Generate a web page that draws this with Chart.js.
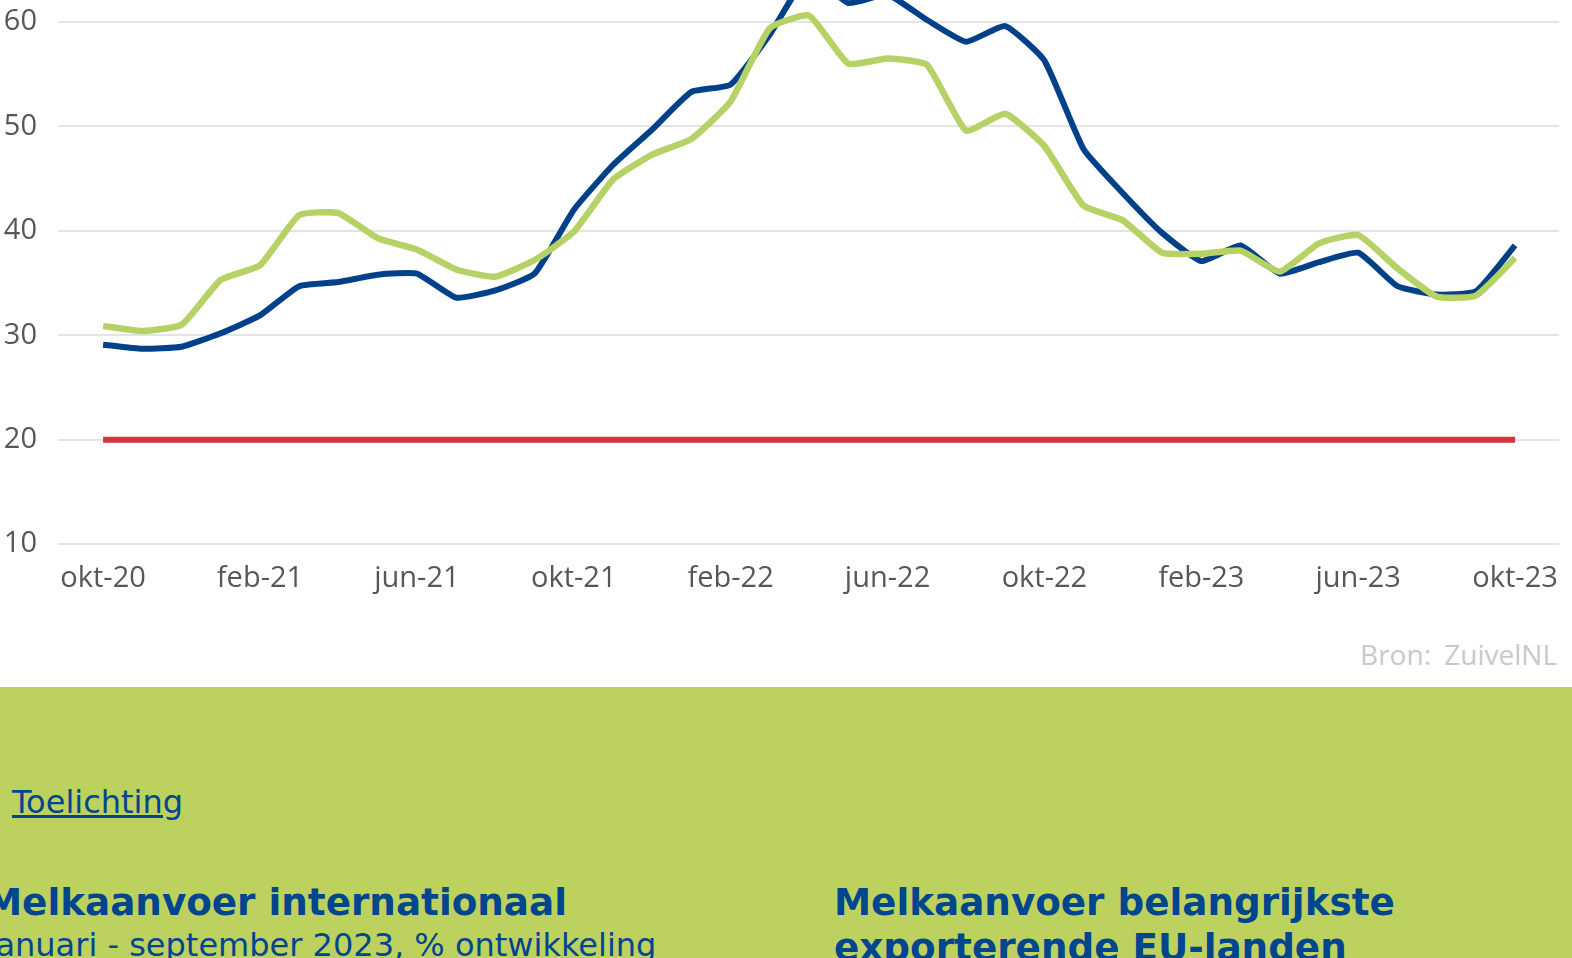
<!DOCTYPE html>
<html>
<head>
<meta charset="utf-8">
<script src="https://cdn.jsdelivr.net/npm/chart.js@4"></script>
<style>
    html, body { margin: 0; padding: 0; width: 1572px; height: 958px; overflow: hidden; background: #fff; }
    #chartBox { position: absolute; left: 0; top: -121px; width: 1572px; height: 734px; }
    .bron { position: absolute; right: 15px; top: 635px; font: 28px/38px "Open Sans", sans-serif; color: #c9c9c9; word-spacing: 6px; }
    .green { position: absolute; left: 0; top: 687px; width: 1572px; height: 271px; background: #bdd15e; }
    .txt { position: absolute; font-family: "DejaVu Sans", sans-serif; color: #00468e; white-space: nowrap; }
    .link { left: 12px; top: 95px; font-size: 32px; line-height: 40px; text-decoration: underline; }
    .h { font-size: 37.3px; line-height: 45px; font-weight: bold; }
    .sub { font-size: 32px; line-height: 40px; }
</style>
</head>
<body>
<div id="chartBox"><canvas id="chart"></canvas></div>
<div class="bron">Bron: ZuivelNL</div>
<div class="green">
    <div class="txt link">Toelichting</div>
    <div class="txt h" style="left:-15px; top:193px;">Melkaanvoer internationaal</div>
    <div class="txt sub" style="left:-14px; top:238px;">Januari - september 2023, % ontwikkeling</div>
    <div class="txt h" style="left:834px; top:193px;">Melkaanvoer belangrijkste<br>exporterende EU-landen</div>
</div>
<script>
// maanden okt-20 t/m okt-23
const months = ['okt-20', 'nov-20', 'dec-20', 'jan-21', 'feb-21', 'mrt-21', 'apr-21', 'mei-21', 'jun-21', 'jul-21', 'aug-21', 'sep-21',
    'okt-21', 'nov-21', 'dec-21', 'jan-22', 'feb-22', 'mrt-22', 'apr-22', 'mei-22', 'jun-22', 'jul-22', 'aug-22', 'sep-22',
    'okt-22', 'nov-22', 'dec-22', 'jan-23', 'feb-23', 'mrt-23', 'apr-23', 'mei-23', 'jun-23', 'jul-23', 'aug-23', 'sep-23', 'okt-23'];

const blueValues = [29.1, 28.7, 28.9, 30.2, 31.9, 34.7, 35.1, 35.8, 35.9, 33.6, 34.3, 35.9,
    42.0, 46.3, 49.7, 53.3, 54.0, 58.8, 64.5, 61.8, 62.6, 60.2, 58.1, 59.6,
    56.3, 47.8, 43.6, 39.8, 37.1, 38.6, 35.9, 37.0, 37.9, 34.7, 33.9, 34.2, 38.6];

const greenValues = [30.9, 30.4, 31.0, 35.3, 36.7, 41.5, 41.7, 39.3, 38.2, 36.3, 35.6, 37.2,
    39.9, 44.9, 47.3, 48.8, 52.4, 59.4, 60.6, 56.0, 56.5, 55.9, 49.6, 51.2,
    48.1, 42.4, 41.0, 37.9, 37.8, 38.1, 36.1, 38.8, 39.6, 36.4, 33.7, 33.8, 37.4];

const redValues = [20, 20, 20, 20, 20, 20, 20, 20, 20, 20, 20, 20,
    20, 20, 20, 20, 20, 20, 20, 20, 20, 20, 20, 20,
    20, 20, 20, 20, 20, 20, 20, 20, 20, 20, 20, 20, 20];

const yTicks = [10, 20, 30, 40, 50, 60, 70];

// x as month index so the axis can run a bit past the first and last month
const toPoints = values => values.map((v, i) => ({ x: i, y: v }));

const lineSet = (label, values, color, width) => ({
    label: label,
    data: toPoints(values),
    borderColor: color,
    backgroundColor: color,
    borderWidth: width,
    pointRadius: 0,
    tension: 0.15,
    borderCapStyle: 'butt',
    borderJoinStyle: 'round',
});

new Chart(document.getElementById('chart'), {
    type: 'line',
    data: {
        datasets: [
            lineSet('Norm', redValues, '#d8323b', 6),
            lineSet('Reeks 2', greenValues, '#b6d165', 6.5),
            lineSet('Reeks 1', blueValues, '#024189', 6),
        ],
    },
    options: {
        responsive: true,
        maintainAspectRatio: false,
        animation: false,
        layout: { padding: { right: 13 } },
        plugins: {
            legend: { display: false },
            tooltip: { enabled: false },
        },
        scales: {
            x: {
                type: 'linear',
                min: -1.15,
                max: 37.12,
                // edge labels fit inside the canvas, so no extra side padding
                afterFit: scale => { scale.paddingLeft = 0; scale.paddingRight = 0; },
                grid: { display: false, drawTicks: false },
                border: { display: false },
                ticks: {
                    stepSize: 4,
                    includeBounds: false,
                    maxRotation: 0,
                    autoSkip: false,
                    padding: 17,
                    color: '#575757',
                    font: { family: 'Open Sans', size: 29 },
                    callback: value => months[value],
                },
            },
            y: {
                min: yTicks[0],
                max: yTicks[yTicks.length - 1],
                afterFit: scale => { scale.width = 58; },
                afterBuildTicks: scale => { scale.ticks = yTicks.map(v => ({ value: v })); },
                grid: { color: '#e4e4e4', lineWidth: 2, drawTicks: false },
                border: { display: false },
                ticks: {
                    padding: 21,
                    color: '#575757',
                    font: { family: 'Open Sans', size: 29 },
                },
            },
        },
    },
});
</script>
</body>
</html>
